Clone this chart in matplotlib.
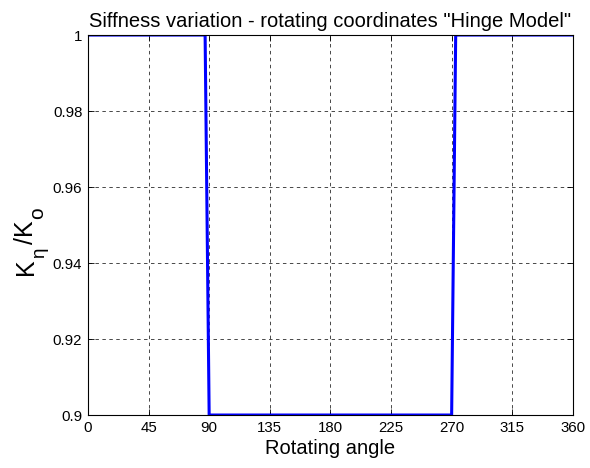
import matplotlib
matplotlib.use('Agg')
import matplotlib.pyplot as plt
from matplotlib.transforms import IdentityTransform

# stiffness ratio vs rotating angle (hinge model)
angle = [0, 87, 90, 270, 273, 360]
stiffness = [1.0, 1.0, 0.9, 0.9, 1.0, 1.0]
xticks = [0, 45, 90, 135, 180, 225, 270, 315, 360]
yticks = [0.9, 0.92, 0.94, 0.96, 0.98, 1.0]
ytick_labels = ['0.9', '0.92', '0.94', '0.96', '0.98', '1']

plt.rcParams['font.family'] = ['Liberation Sans', 'DejaVu Sans']

W, H = 590, 468
fig = plt.figure(figsize=(W / 100, H / 100), dpi=100)
ax = fig.add_axes([0.149, 0.1132, 0.822, 0.812])

ax.plot(angle, stiffness, color='#0000ff', linewidth=2.2)

ax.set_xlim(0, 360)
ax.set_ylim(0.9, 1.0)
ax.set_xticks(xticks)
ax.set_yticks(yticks)
ax.set_yticklabels(ytick_labels)
ax.tick_params(direction='in', length=4, width=0.6, labelsize=10.8, pad=4,
               top=True, right=True)
ax.grid(True, color='black', linestyle=(0, (5, 5)), linewidth=0.5)
for s in ax.spines.values():
    s.set_linewidth(0.8)

ax.set_xlabel('Rotating angle', fontsize=14.5, labelpad=3.5)
ax.set_title('Siffness variation - rotating coordinates "Hinge Model"',
             fontsize=14.5, pad=6)

# y label built from pieces so the subscripts stay large (MATLAB style)
# entries: text, fontsize, baseline x (px from left), start y (px from top)
ylabel_parts = [('K', 18, 33, 275), ('\u03b7', 13.5, 44, 258),
                ('/K', 18, 33, 244), ('o', 15, 43, 219)]
for txt, size, bx, sy in ylabel_parts:
    fig.text(bx, H - sy, txt, fontsize=size, rotation=90,
             rotation_mode='anchor', ha='left', va='baseline',
             transform=IdentityTransform())

fig.savefig('out.png', dpi=100)
